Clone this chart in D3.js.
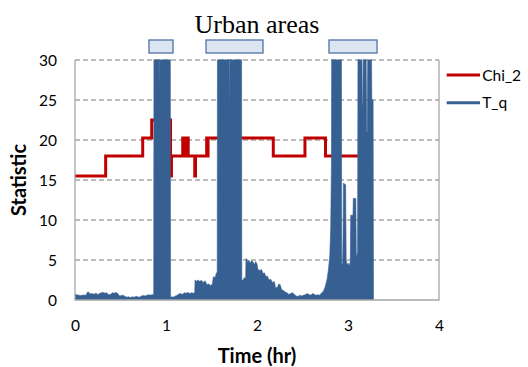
<!DOCTYPE html>
<html>
<head>
<meta charset="utf-8">
<script src="https://cdn.jsdelivr.net/npm/d3@7"></script>
<style>
  body { margin: 0; background: #fff; }
  svg { display: block; }
</style>
</head>
<body>
<div id="chart"></div>
<script>
const xTicks = [0, 1, 2, 3, 4];
const yTicks = [0, 5, 10, 15, 20, 25, 30];
const seriesNames = ['Chi_2', 'T_q'];
const seriesColors = ['#c00000', '#376092'];

// time spans (hr) marked as urban areas
const urbanAreas = [[0.813, 1.077], [1.440, 2.066], [2.791, 3.319]];

// step series: [time, value], each value holds until the next time
const chi2 = [
  [0, 15.5], [0.337, 18], [0.744, 20.25], [0.843, 22.5], [1.050, 15.5], [1.060, 18],
  [1.184, 20.25], [1.212, 18], [1.218, 20.25], [1.244, 18], [1.316, 15.5], [1.324, 18],
  [1.447, 20.25], [1.455, 18], [1.462, 20.25], [2.179, 18], [2.527, 20.25], [2.753, 18],
  [3.160, 20.25], [3.245, 20.25]
];

// T_q envelope, values above 30 run off the top
const tq = [
  [0.000, 0.70], [0.020, 0.65], [0.040, 0.60], [0.060, 0.55], [0.080, 0.60], [0.100, 0.62],
  [0.120, 0.58], [0.138, 1.00], [0.155, 0.95], [0.168, 0.75], [0.190, 0.80], [0.210, 0.72],
  [0.230, 0.85], [0.250, 0.70], [0.270, 0.80], [0.290, 0.90], [0.310, 0.95], [0.330, 0.85],
  [0.350, 0.90], [0.368, 0.65], [0.390, 0.70], [0.410, 0.90], [0.430, 0.85], [0.450, 0.95],
  [0.470, 0.80], [0.490, 0.50], [0.510, 0.55], [0.530, 0.60], [0.550, 0.45], [0.570, 0.35],
  [0.590, 0.40], [0.610, 0.30], [0.630, 0.40], [0.650, 0.35], [0.670, 0.45], [0.690, 0.40],
  [0.710, 0.35], [0.730, 0.50], [0.750, 0.55], [0.770, 0.50], [0.790, 0.60], [0.810, 0.65],
  [0.830, 0.60], [0.850, 0.70], [0.865, 0.60],
  [0.868, 40], [0.918, 40], [0.926, 26.7], [0.934, 40], [1.047, 40],
  [1.050, 0.35], [1.070, 0.40], [1.090, 0.35], [1.100, 0.50], [1.120, 0.55], [1.140, 0.75],
  [1.160, 0.80], [1.180, 0.70], [1.200, 0.90], [1.220, 0.85], [1.240, 0.95], [1.260, 0.80],
  [1.280, 0.90], [1.300, 0.85], [1.316, 0.90],
  [1.319, 2.50], [1.330, 2.30], [1.350, 2.50], [1.370, 2.35], [1.390, 2.45], [1.410, 2.20],
  [1.430, 2.40], [1.450, 1.90], [1.470, 2.00], [1.490, 1.80], [1.510, 2.00], [1.520, 2.90],
  [1.540, 2.80], [1.552, 3.30], [1.563, 3.50],
  [1.566, 40], [1.689, 40], [1.697, 22.8], [1.705, 40], [1.830, 40],
  [1.833, 2.60], [1.845, 2.40], [1.860, 2.80], [1.875, 2.70], [1.879, 5.20], [1.890, 5.00],
  [1.900, 4.70], [1.910, 5.00], [1.925, 4.60], [1.940, 4.90], [1.955, 4.80], [1.970, 4.40],
  [1.985, 4.80], [2.000, 4.50], [2.010, 3.80], [2.030, 3.70], [2.050, 3.80], [2.065, 3.30],
  [2.080, 3.40], [2.100, 2.90], [2.115, 3.00], [2.130, 2.50], [2.150, 2.60], [2.170, 2.20],
  [2.190, 2.30], [2.205, 1.50], [2.225, 1.60], [2.240, 2.00], [2.255, 1.90], [2.270, 1.30],
  [2.290, 1.20], [2.310, 1.00], [2.330, 0.90], [2.350, 0.70], [2.370, 0.80], [2.390, 0.90],
  [2.410, 0.70], [2.430, 0.50], [2.450, 0.45], [2.470, 0.60], [2.490, 0.50], [2.510, 0.60],
  [2.530, 0.65], [2.550, 0.80], [2.570, 0.70], [2.590, 0.60], [2.610, 0.80], [2.630, 0.70],
  [2.650, 0.60], [2.670, 0.65], [2.690, 0.60], [2.710, 0.90], [2.730, 1.10], [2.750, 1.70],
  [2.770, 2.60], [2.785, 3.80], [2.800, 5.60], [2.810, 9.00], [2.818, 16.9],
  [2.822, 40], [2.927, 40],
  [2.931, 4.60], [2.940, 4.30], [2.946, 8.00], [2.950, 14.6], [2.974, 14.4], [2.980, 5.00],
  [2.990, 4.40], [3.000, 4.60], [3.015, 4.30], [3.025, 4.80], [3.030, 10.6], [3.055, 10.6],
  [3.058, 12.7], [3.086, 12.7], [3.092, 5.20], [3.105, 6.00],
  [3.111, 40], [3.146, 40], [3.157, 24.4], [3.163, 24.4], [3.174, 40], [3.194, 40],
  [3.205, 21.0], [3.211, 21.0], [3.222, 40], [3.252, 40], [3.262, 25.0], [3.276, 25.0],
  [3.280, 0]
];

const width = 528, height = 367;
const margin = { top: 60, right: 89, bottom: 67, left: 75 };
const innerW = width - margin.left - margin.right;
const innerH = height - margin.top - margin.bottom;
const sans = 'Lato, "Open Sans", sans-serif';
const gridColor = '#a6a6a6';

const svg = d3.select('#chart')
  .append('svg')
  .attr('width', width)
  .attr('height', height);

const g = svg.append('g')
  .attr('transform', `translate(${margin.left},${margin.top})`);

const x = d3.scaleLinear().domain([0, 4]).range([0, innerW]);
const y = d3.scaleLinear().domain([0, 30]).range([innerH, 0]);

svg.append('defs').append('clipPath')
  .attr('id', 'plot-clip')
  .append('rect')
  .attr('x', 0)
  .attr('y', -0.5)
  .attr('width', innerW)
  .attr('height', innerH + 0.5);

// title and urban-area markers
svg.append('text')
  .attr('x', margin.left + innerW / 2)
  .attr('y', 33)
  .attr('text-anchor', 'middle')
  .style('font-family', '"Liberation Serif", "Times New Roman", serif')
  .style('font-size', '26px')
  .text('Urban areas');

g.selectAll('rect.urban')
  .data(urbanAreas)
  .join('rect')
  .attr('class', 'urban')
  .attr('x', d => x(d[0]))
  .attr('y', -20)
  .attr('width', d => x(d[1]) - x(d[0]))
  .attr('height', 13)
  .attr('fill', '#dce6f2')
  .attr('stroke', '#4f72a6')
  .attr('stroke-width', 1.3);

// dashed gridlines
g.selectAll('line.grid')
  .data(yTicks.filter(d => d > 0))
  .join('line')
  .attr('class', 'grid')
  .attr('x1', 0)
  .attr('x2', innerW)
  .attr('y1', d => y(d))
  .attr('y2', d => y(d))
  .attr('stroke', gridColor)
  .attr('stroke-width', 1.3)
  .attr('stroke-dasharray', '5,3');

const plot = g.append('g').attr('clip-path', 'url(#plot-clip)');

plot.append('path')
  .datum(chi2)
  .attr('fill', 'none')
  .attr('stroke', seriesColors[0])
  .attr('stroke-width', 3)
  .attr('d', d3.line()
    .x(d => x(d[0]))
    .y(d => y(d[1]))
    .curve(d3.curveStepAfter));

plot.append('path')
  .datum(tq)
  .attr('fill', seriesColors[1])
  .attr('stroke', seriesColors[1])
  .attr('stroke-width', 0.6)
  .attr('d', d3.area()
    .x(d => x(d[0]))
    .y0(innerH)
    .y1(d => y(d[1])));

// frame: solid left, right and bottom
g.append('path')
  .attr('d', `M0,0V${innerH}H${innerW}V0`)
  .attr('fill', 'none')
  .attr('stroke', gridColor)
  .attr('stroke-width', 1.3);

const xAxis = g.append('g')
  .attr('transform', `translate(0,${innerH})`)
  .call(d3.axisBottom(x).tickValues(xTicks).tickSize(0).tickFormat(d3.format('d')));
xAxis.select('.domain').remove();
xAxis.selectAll('text')
  .attr('dy', null)
  .attr('y', 31)
  .style('font-family', sans)
  .style('font-size', '15.5px')
  .style('fill', '#000');

const yAxis = g.append('g')
  .call(d3.axisLeft(y).tickValues(yTicks).tickSize(0).tickPadding(18));
yAxis.select('.domain').remove();
yAxis.selectAll('text')
  .attr('dy', '0.36em')
  .style('font-family', sans)
  .style('font-size', '15.5px')
  .style('fill', '#000');

g.append('text')
  .attr('x', innerW / 2)
  .attr('y', innerH + 63)
  .attr('text-anchor', 'middle')
  .style('font-family', sans)
  .style('font-weight', 'bold')
  .style('font-size', '20px')
  .text('Time (hr)');

g.append('text')
  .attr('transform', `translate(${-margin.left + 26},${innerH / 2}) rotate(-90)`)
  .attr('text-anchor', 'middle')
  .style('font-family', sans)
  .style('font-weight', 'bold')
  .style('font-size', '20px')
  .text('Statistic');

// legend
const legend = svg.append('g')
  .attr('transform', 'translate(446.7,75)');

const item = legend.selectAll('g')
  .data(seriesNames)
  .join('g')
  .attr('transform', (d, i) => `translate(0,${i * 27.7})`);

item.append('line')
  .attr('x1', 0)
  .attr('x2', 33.3)
  .attr('stroke', (d, i) => seriesColors[i])
  .attr('stroke-width', 3);

item.append('text')
  .attr('x', 35.5)
  .attr('y', 5.5)
  .style('font-family', sans)
  .style('font-size', '15.5px')
  .text(d => d);
</script>
</body>
</html>
